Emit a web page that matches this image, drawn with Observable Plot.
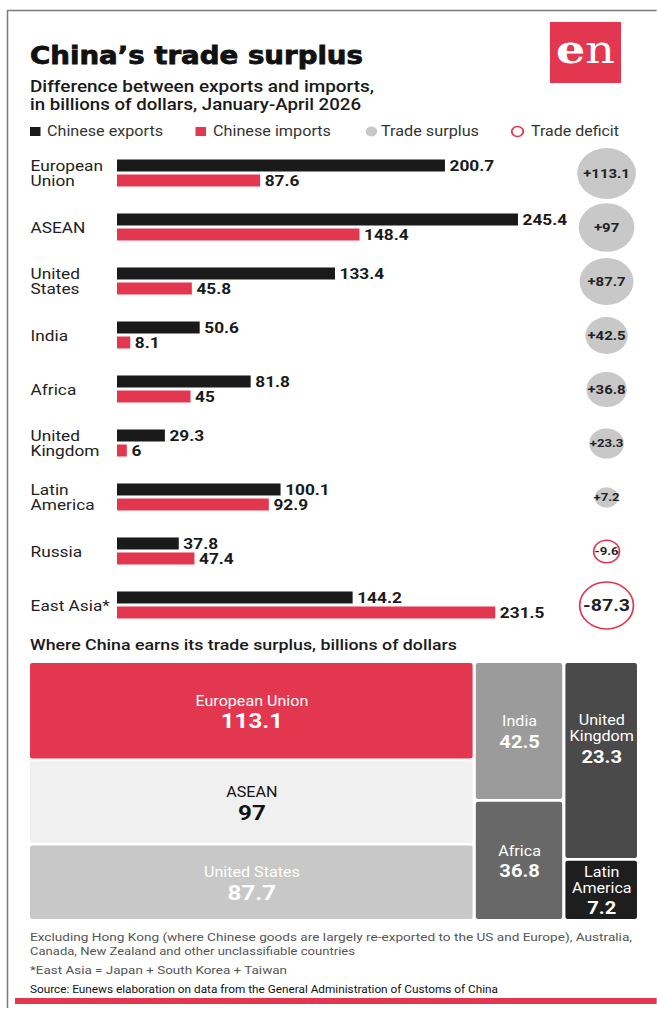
<!DOCTYPE html>
<html><head><meta charset="utf-8">
<script src="https://cdn.jsdelivr.net/npm/d3@7"></script>
<script src="https://cdn.jsdelivr.net/npm/@observablehq/plot@0.6"></script>
<style>
html,body{margin:0;padding:0;background:#fff;width:657px;height:1011px;overflow:hidden}
#page{position:absolute;left:0;top:0;height:1011px;transform-origin:0 0;}
#page svg{position:absolute;left:0;}
</style></head><body><div id="page"></div>
<script>
// ---------- data ----------
const categories = ["European Union","ASEAN","United States","India","Africa","United Kingdom","Latin America","Russia","East Asia*"];
const categoryLabels = ["European\nUnion","ASEAN","United\nStates","India","Africa","United\nKingdom","Latin\nAmerica","Russia","East Asia*"];
const exportsValues = [200.7,245.4,133.4,50.6,81.8,29.3,100.1,37.8,144.2];
const importsValues = [87.6,148.4,45.8,8.1,45,6,92.9,47.4,231.5];
const balanceValues = [113.1,97,87.7,42.5,36.8,23.3,7.2,-9.6,-87.3];
const surplusRegions = ["European Union","ASEAN","United States","India","Africa","United Kingdom","Latin America"];
const surplusLabels = ["European Union","ASEAN","United States","India","Africa","United\nKingdom","Latin\nAmerica"];
const surplusValues = [113.1,97,87.7,42.5,36.8,23.3,7.2];
const surplusColumn = [0,0,0,1,1,2,2];
const legendLabels = ["Chinese exports","Chinese imports","Trade surplus","Trade deficit"];

// ---------- styles ----------
const S = 1.15, W0 = 657 / S, u = v => v / S;
const RED = "#e3374f";
const treemapColors = {"European Union": RED, "ASEAN": "#f0f0f0", "United States": "#c8c8c8", "India": "#9b9b9b", "Africa": "#686868", "United Kingdom": "#4a4a4a", "Latin America": "#1e1e1e"};
const treemapText = {"ASEAN": "#111"};

const page = document.getElementById("page");
page.style.width = W0 + "px";
page.style.transform = `scaleX(${S})`;

function txt(xRef, y, s, o) {
  const tl = o.w ? ` textLength="${u(o.w)}" lengthAdjust="spacingAndGlyphs"` : "";
  const extra = o.extra || "";
  return `<text x="${u(xRef)}" y="${y}" font-family="${o.family || "Roboto"}" font-size="${o.size}" font-weight="${o.weight || 400}" fill="${o.fill || "#222"}"${tl}${extra}>${s}</text>`;
}

const frame = `<svg xmlns="http://www.w3.org/2000/svg" width="${W0}" height="1011" style="top:0">
<line x1="${u(7)}" y1="10.5" x2="${W0}" y2="10.5" stroke="#7a7a7a" stroke-width="1.5"/>
<line x1="${u(7.5)}" y1="10" x2="${u(7.5)}" y2="1008" stroke="#7a7a7a" stroke-width="${1.5 / S}"/>
<rect x="${u(550)}" y="22" width="${u(71)}" height="61" fill="${RED}"/>
<text x="${u(585.5)}" y="63" text-anchor="middle" font-family="DejaVu Serif" font-size="40" fill="#fff"><tspan font-weight="bold">e</tspan><tspan>n</tspan></text>
${txt(30, 64, "China’s trade surplus", {size: 24, weight: 700, family: "DejaVu Sans", fill: "#111", w: 333, extra: ' stroke="#111" stroke-width="0.8"'})}
${txt(30, 92, "Difference between exports and imports,", {size: 16, weight: 500, fill: "#1a1a1a", w: 344})}
${txt(30, 110.5, "in billions of dollars, January-April 2026", {size: 16, weight: 500, fill: "#1a1a1a", w: 331})}
<rect x="${u(30)}" y="127" width="${u(10.5)}" height="9" fill="#1a1a1a"/>
${txt(47, 136, legendLabels[0], {size: 14, fill: "#333", w: 116})}
<rect x="${u(195.5)}" y="127" width="${u(10.5)}" height="9" fill="${RED}"/>
${txt(213, 136, legendLabels[1], {size: 14, fill: "#333", w: 118})}
<circle cx="${u(371.5)}" cy="131.5" r="5" fill="#c8c8c8"/>
${txt(381, 136, legendLabels[2], {size: 14, fill: "#333", w: 98})}
<circle cx="${u(517.5)}" cy="131.5" r="5" fill="none" stroke="${RED}" stroke-width="1.6"/>
${txt(531, 136, legendLabels[3], {size: 14, fill: "#333", w: 88})}
${txt(30, 650, "Where China earns its trade surplus, billions of dollars", {size: 15, weight: 500, fill: "#1a1a1a", w: 427})}
${txt(30, 941, "Excluding Hong Kong (where Chinese goods are largely re-exported to the US and Europe), Australia,", {size: 11.8, fill: "#555", w: 602})}
${txt(30, 955.5, "Canada, New Zealand and other unclassifiable countries", {size: 11.8, fill: "#555", w: 325})}
${txt(30, 974, "*East Asia = Japan + South Korea + Taiwan", {size: 11.8, fill: "#555", w: 257})}
${txt(30, 993, "Source: Eunews elaboration on data from the General Administration of Customs of China", {size: 11.2, fill: "#111", w: 468})}
<rect x="${u(15)}" y="998" width="${W0 - u(15)}" height="6" fill="${RED}"/>
</svg>`;
page.innerHTML = frame;

// ---------- bar chart ----------
const rows = categories.map((c, i) => ({category: c, label: categoryLabels[i], exports: exportsValues[i], imports: importsValues[i], balance: balanceValues[i]}));
const bubbleFont = d => d.balance < -50 ? 17 : Math.abs(d.balance) < 30 ? 11.5 : 13;

const bars = Plot.plot({
  width: W0, height: 500,
  marginTop: 5.5, marginBottom: 8.5, marginLeft: u(117), marginRight: u(139),
  style: {fontFamily: "Roboto, sans-serif", background: "transparent"},
  x: {domain: [0, d3.max([...exportsValues, ...importsValues])], axis: null},
  y: {domain: categories, axis: null, padding: 0},
  r: {type: "pow", exponent: 1 / 3, domain: [0, d3.max(balanceValues, Math.abs)], range: [0, 25.5]},
  marks: [
    Plot.barX(rows, {x: "exports", y: "category", fill: "#1a1a1a", insetTop: 13.5, insetBottom: 28.5}),
    Plot.barX(rows, {x: "imports", y: "category", fill: RED, insetTop: 28.5, insetBottom: 13.5}),
    Plot.text(rows, {x: "exports", y: "category", text: d => String(d.exports), dy: -7.5, dx: u(4), textAnchor: "start", fontWeight: "bold", fontSize: 15, fill: "#1a1a1a"}),
    Plot.text(rows, {x: "imports", y: "category", text: d => String(d.imports), dy: 7.5, dx: u(4), textAnchor: "start", fontWeight: "bold", fontSize: 15, fill: "#1a1a1a"}),
    Plot.text(rows, {y: "category", text: "label", frameAnchor: "left", dx: -u(87), textAnchor: "start", fontSize: 15, lineHeight: 1.05, fill: "#222"}),
    Plot.dot(rows.filter(d => d.balance >= 0), {y: "category", r: d => Math.abs(d.balance), fill: "#c8c8c8", frameAnchor: "right", dx: u(88)}),
    Plot.dot(rows.filter(d => d.balance < 0), {y: "category", r: d => Math.abs(d.balance), fill: "white", stroke: RED, strokeWidth: 1.5, frameAnchor: "right", dx: u(88)}),
    Plot.text(rows, {y: "category", text: d => (d.balance > 0 ? "+" : "") + d.balance, frameAnchor: "right", dx: u(88), textAnchor: "middle", lineAnchor: "middle", fontWeight: "bold", fontSize: bubbleFont, fill: "#222"})
  ]
});
bars.style.top = "140px";
page.appendChild(bars);

// ---------- treemap ----------
const cells = surplusRegions.map((r, i) => ({region: r, label: surplusLabels[i], value: surplusValues[i], col: surplusColumn[i]}));
const rootData = {children: d3.range(d3.max(surplusColumn) + 1).map(c => ({children: cells.filter(d => d.col === c)}))};
const tmMarginL = u(30), tmMarginR = u(20), tmTop = 5, tmBottom = 5, fh = 256;
const fw = W0 - tmMarginL - tmMarginR;
// designer layout: the first column keeps its proportional width, the two narrow columns are widened
const narrowShares = [0.545, 0.455];
function tile(parent, x0, y0, x1, y1) {
  if (parent.depth === 0) {
    const w = x1 - x0;
    const [first, ...rest] = parent.children;
    const lw = w * first.value / parent.value;
    first.x0 = x0; first.x1 = x0 + lw; first.y0 = y0; first.y1 = y1;
    let x = x0 + lw;
    rest.forEach((c, i) => { c.x0 = x; x += (w - lw) * narrowShares[i]; c.x1 = x; c.y0 = y0; c.y1 = y1; });
  } else {
    d3.treemapSlice(parent, x0, y0, x1, y1);
  }
}
const root = d3.hierarchy(rootData).sum(d => d.value || 0);
d3.treemap().size([fw, fh]).paddingInner(2.8).tile(tile)(root);
const leaves = root.leaves().map(n => {
  const d = n.data, h = n.y1 - n.y0, lines = d.label.split("\n").length;
  const ty = n.y0 + Math.min(h / 2, 75);
  const a = 10.5, b = lines > 1 ? 18.5 : 10.5;
  return {...d, x0: n.x0, x1: n.x1, y0: n.y0, y1: n.y1, cx: (n.x0 + n.x1) / 2, ly: ty - a, vy: ty + b, big: (n.x1 - n.x0) > 200};
});
const tm = Plot.plot({
  width: W0, height: fh + tmTop + tmBottom,
  marginTop: tmTop, marginBottom: tmBottom, marginLeft: tmMarginL, marginRight: tmMarginR,
  style: {fontFamily: "Roboto, sans-serif", background: "transparent"},
  x: {domain: [0, fw], axis: null},
  y: {domain: [0, fh], axis: null, reverse: true},
  color: {type: "identity"},
  marks: [
    Plot.rect(leaves, {x1: "x0", x2: "x1", y1: "y0", y2: "y1", fill: d => treemapColors[d.region], rx: 2}),
    Plot.text(leaves, {x: "cx", y: "ly", text: "label", fontSize: 14, lineHeight: 1.15, fill: d => treemapText[d.region] || "#fff"}),
    Plot.text(leaves.filter(d => d.big), {x: "cx", y: "vy", text: d => String(d.value), fontSize: 21, fontWeight: "bold", fill: d => treemapText[d.region] || "#fff"}),
    Plot.text(leaves.filter(d => !d.big), {x: "cx", y: "vy", text: d => String(d.value), fontSize: 17.5, fontWeight: "bold", fill: d => treemapText[d.region] || "#fff"})
  ]
});
tm.style.top = "658px";
page.appendChild(tm);
</script>
</body></html>
